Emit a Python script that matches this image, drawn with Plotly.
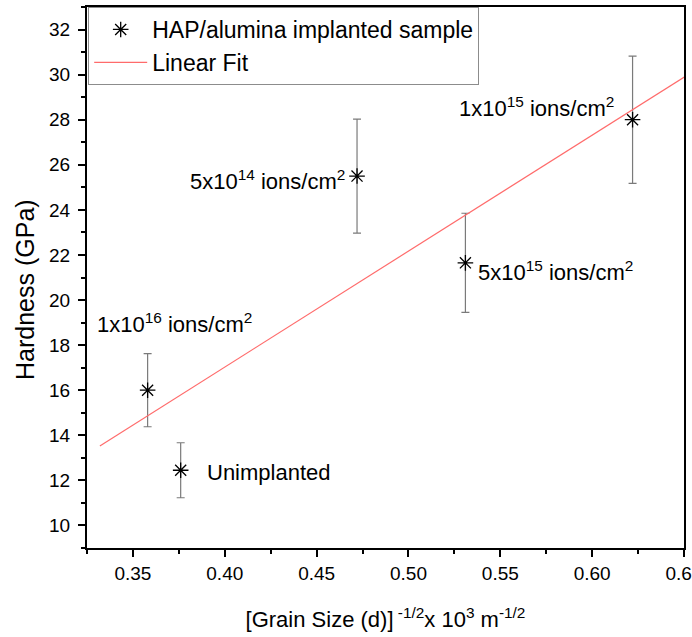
import numpy as np
import plotly.graph_objects as go

# ---- data ----
grain = [0.358, 0.376, 0.472, 0.531, 0.622]          # [Grain size (d)]^-1/2 x 10^3 m^-1/2
hardness = [16.0, 12.45, 25.5, 21.65, 28.0]           # GPa
hard_err = [1.62, 1.22, 2.53, 2.2, 2.82]              # GPa
labels = ["1x10<sup>16</sup> ions/cm<sup>2</sup>", "Unimplanted",
          "5x10<sup>14</sup> ions/cm<sup>2</sup>", "5x10<sup>15</sup> ions/cm<sup>2</sup>",
          "1x10<sup>15</sup> ions/cm<sup>2</sup>"]
label_x = [0.3293, 0.389, 0.3799, 0.537, 0.5266]
label_y = [18.96, 12.33, 25.31, 21.31, 28.56]
fit_x_range = [0.332, 0.66]
x_ticks = [0.35, 0.40, 0.45, 0.50, 0.55, 0.60, 0.65]
y_ticks = [10, 12, 14, 16, 18, 20, 22, 24, 26, 28, 30, 32]

FONT = "Liberation Sans, Arial, sans-serif"

slope, intercept = np.polyfit(grain, hardness, 1)
fx = np.array(fit_x_range)
fy = slope * fx + intercept

fig = go.Figure()
fig.add_trace(go.Scatter(
    x=grain, y=hardness, mode="markers", name="HAP/alumina implanted sample",
    marker=dict(symbol="asterisk-open", size=13, color="black",
                line=dict(color="black", width=1.3)),
    error_y=dict(type="data", array=hard_err, visible=True, color="#7a7a7a",
                 thickness=1.2, width=4),
))
fig.add_trace(go.Scatter(
    x=fx, y=fy, mode="lines", name="Linear Fit",
    line=dict(color="#ff6b6b", width=1.2),
))

for t, x, y in zip(labels, label_x, label_y):
    fig.add_annotation(x=x, y=y, text=t, showarrow=False, xanchor="left",
                       yanchor="middle", font=dict(family=FONT, size=22, color="black"))

# y-axis title (placed as annotation to match the reference's offset)
fig.add_annotation(xref="paper", yref="paper", x=-62 / 597, y=(548 - 290) / 541,
                   text="Hardness (GPa)", textangle=-90, showarrow=False,
                   xanchor="center", yanchor="middle",
                   font=dict(family=FONT, size=25, color="black"))

axis_common = dict(showline=True, linewidth=2, linecolor="black", mirror=True,
                   showgrid=False, zeroline=False, ticks="outside", tickwidth=1.5,
                   tickcolor="black", ticklen=7, automargin=False,
                   tickfont=dict(family=FONT, size=19, color="black"))

fig.update_xaxes(range=[0.325, 0.65], tickvals=x_ticks,
                 ticktext=[f"{v:.2f}" for v in x_ticks],
                 ticklabeloverflow="allow",
                 minor=dict(dtick=0.025, tick0=0.325, ticklen=4, tickwidth=1.5,
                            tickcolor="black", ticks="outside"),
                 title=dict(text="[Grain Size (d)]<sup> -1/2</sup>x 10<sup>3</sup> m<sup>-1/2</sup>",
                            font=dict(family=FONT, size=22, color="black"), standoff=29),
                 **axis_common)
fig.update_yaxes(range=[9, 33], tickvals=y_ticks, ticktext=[str(v) for v in y_ticks],
                 minor=dict(dtick=1, tick0=9, ticklen=4, tickwidth=1.5,
                            tickcolor="black", ticks="outside"),
                 ticklabelstandoff=4,
                 **axis_common)

fig.update_layout(
    width=692, height=637,
    margin=dict(l=87, r=8, t=7, b=89),
    paper_bgcolor="white", plot_bgcolor="white",
    font=dict(family=FONT, color="black"),
    legend=dict(x=0.002, y=1, xanchor="left", yanchor="top",
                bordercolor="#8c8c8c", borderwidth=1, bgcolor="white",
                font=dict(family=FONT, size=23, color="black"),
                itemwidth=53, tracegroupgap=0),
)

fig.write_html("out.html")
